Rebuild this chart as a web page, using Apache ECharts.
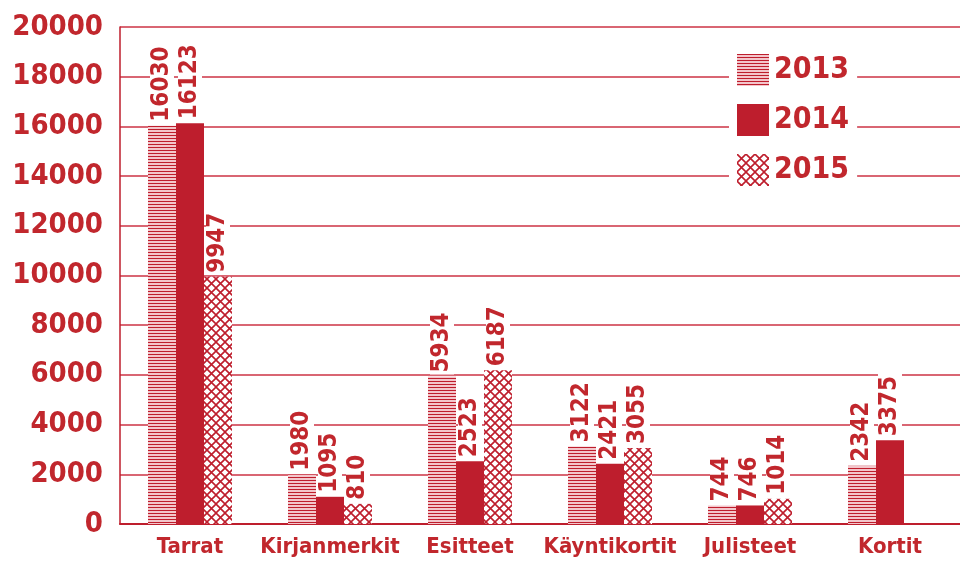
<!DOCTYPE html>
<html>
<head>
<meta charset="utf-8">
<script src="https://cdn.jsdelivr.net/npm/echarts@6/dist/echarts.min.js"></script>
<style>
  html, body { margin: 0; padding: 0; background: #fff; }
  #chart { width: 960px; height: 561px; }
</style>
</head>
<body>
<div id="chart"></div>
<script>
var categories = ['Tarrat', 'Kirjanmerkit', 'Esitteet', 'Käyntikortit', 'Julisteet', 'Kortit']
var years = ['2013', '2014', '2015']
var values2013 = [16030, 1980, 5934, 3122, 744, 2342]
var values2014 = [16123, 1095, 2523, 2421, 746, 3375]
var values2015 = [9947, 810, 6187, 3055, 1014, null]

var RED = '#be1e2d'
var TEXT = '#c1272d'
var FONT = '"DejaVu Sans Condensed", "DejaVu Sans", sans-serif'

// horizontal stripes for 2013
function stripePattern() {
  var c = document.createElement('canvas')
  c.width = 8
  c.height = 3
  var ctx = c.getContext('2d')
  ctx.fillStyle = '#f3c6cb'
  ctx.fillRect(0, 0, 8, 3)
  ctx.fillStyle = RED
  ctx.fillRect(0, 0, 8, 1)
  return c
}

// lattice for 2015
function latticePattern() {
  var c = document.createElement('canvas')
  c.width = 9
  c.height = 9
  var ctx = c.getContext('2d')
  ctx.fillStyle = '#fff'
  ctx.fillRect(0, 0, 9, 9)
  ctx.strokeStyle = RED
  ctx.lineWidth = 1.6
  ctx.beginPath()
  ctx.moveTo(0, 0); ctx.lineTo(9, 9)
  ctx.moveTo(9, 0); ctx.lineTo(0, 9)
  ctx.stroke()
  return c
}

var fills = [
  { image: stripePattern(), repeat: 'repeat' },
  RED,
  { image: latticePattern(), repeat: 'repeat' }
]
var data = [values2013, values2014, values2015]

var chart = echarts.init(document.getElementById('chart'))

chart.setOption({
  animation: false,
  grid: {
    left: 120,
    right: 0,
    top: 27,
    bottom: 37
  },
  legend: {
    orient: 'vertical',
    left: 729,
    top: 50,
    icon: 'rect',
    itemWidth: 32,
    itemHeight: 32,
    itemGap: 18,
    backgroundColor: '#fff',
    padding: [4, 8, 4, 8],
    data: years,
    textStyle: {
      color: TEXT,
      fontFamily: FONT,
      fontWeight: 'bold',
      fontSize: 30,
      lineHeight: 32
    }
  },
  xAxis: {
    type: 'category',
    data: categories,
    axisTick: { show: false },
    axisLine: { lineStyle: { color: RED, width: 2 } },
    axisLabel: {
      interval: 0,
      color: TEXT,
      fontFamily: FONT,
      fontWeight: 'bold',
      fontSize: 22,
      margin: 12
    }
  },
  yAxis: {
    type: 'value',
    min: 0,
    max: 20000,
    interval: 2000,
    axisLine: { show: true, lineStyle: { color: RED, width: 1.5 } },
    axisTick: { show: false },
    splitLine: { lineStyle: { color: '#cc3344', width: 1.5 } },
    axisLabel: {
      formatter: function (v) { return String(v) },
      color: TEXT,
      fontFamily: FONT,
      fontWeight: 'bold',
      fontSize: 29,
      margin: 17
    }
  },
  series: years.map(function (y, i) {
    return {
      name: y,
      type: 'bar',
      barWidth: 28,
      barGap: 0,
      z: 3,
      itemStyle: { color: fills[i] },
      label: {
        show: true,
        position: 'top',
        rotate: 90,
        align: 'left',
        verticalAlign: 'middle',
        distance: 2,
        color: TEXT,
        fontFamily: FONT,
        fontWeight: 'bold',
        fontSize: 24,
        backgroundColor: '#fff',
        padding: [0, 2, 0, 2]
      },
      data: data[i]
    }
  })
})
</script>
</body>
</html>
